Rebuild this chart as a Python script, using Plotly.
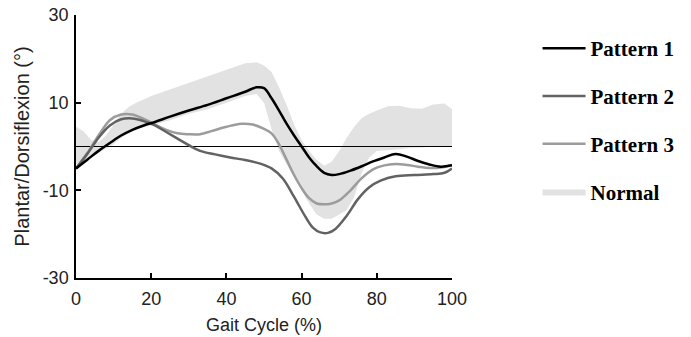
import plotly.graph_objects as go

# ---------------- data ----------------
p1_x = [0, 3, 6, 9, 12, 15, 18, 21, 25, 30, 35, 40, 45, 48, 50, 52, 54, 56, 58, 60,
        62, 64, 66, 68, 70, 73, 76, 79, 82, 85, 88, 91, 94, 97, 100]
p1_y = [-5, -3, -1, 0.8, 2.5, 3.8, 4.8, 5.6, 6.8, 8.2, 9.5, 11, 12.5, 13.5, 13.3, 11, 8.2, 5.2, 2.5, 0,
        -2.5, -4.5, -6, -6.5, -6.3, -5.5, -4.5, -3.4, -2.5, -1.7, -2.3, -3.3, -4.1, -4.6, -4.3]

p2_x = [0, 3, 6, 9, 12, 15, 18, 21, 24, 27, 30, 33, 37, 41, 45, 49, 52, 55, 58, 61,
        63, 65, 67, 69, 72, 75, 78, 81, 85, 90, 95, 98, 100]
p2_y = [-5, -1.7, 2, 4.8, 6.2, 6.4, 5.8, 4.8, 3.3, 1.8, 0.3, -1, -1.8, -2.5, -3.1, -3.9, -5, -7.3, -11.5, -16,
        -18.5, -19.6, -19.7, -18.8, -15.8, -12, -9.3, -7.8, -6.8, -6.5, -6.3, -6, -5]

p3_x = [0, 3, 6, 9, 12, 15, 18, 21, 24, 27, 30, 33, 36, 40, 44, 47, 50, 52, 54, 56,
        58, 60, 62, 64, 66, 68, 70, 73, 76, 79, 82, 85, 88, 91, 94, 97, 100]
p3_y = [-5, -1.5, 2.5, 6, 7.3, 7.3, 6.3, 5, 3.8, 3, 2.8, 2.8, 3.5, 4.5, 5.2, 5, 4, 3, 0.5, -3,
        -6.5, -9.5, -11.8, -13, -13.2, -13, -12.3, -10, -7.2, -5.2, -4.3, -4, -4.2, -4.6, -4.9, -4.8, -4.2]

norm_x = [0, 2, 4, 6, 8, 10, 12, 14, 16, 20, 25, 30, 35, 40, 45, 48, 50, 52, 54, 56,
          58, 60, 62, 64, 66, 68, 70, 72, 74, 76, 78, 80, 83, 86, 89, 92, 95, 98, 100]
norm_upper = [4.5, 3.5, 1.5, 1, 2.5, 5, 7.5, 9, 10, 11.5, 13, 14.5, 16, 17.5, 19, 19.2, 18.5, 17, 13.5, 9.5,
              5, 1.5, -1, -3, -4.4, -3.5, -1, 2, 4.5, 6.5, 7.5, 8.2, 9.2, 9.3, 8.7, 8.6, 9.6, 9.8, 8.5]
norm_lower = [-4, -3.5, -2.5, -1.5, -0.5, 0.5, 2, 3, 4, 4.8, 6, 7.5, 8.5, 10, 11.5, 12, 10, 4, -1, -4,
              -7, -10, -13, -15.5, -16.5, -16.5, -15.5, -14.5, -11.5, -6, -2.5, -1, -0.8, -0.6, -0.3, -0.2, 0, 0, 0]

ref_x = [0, 100]
ref_y = [0, 0]

x_ticks = [0, 20, 40, 60, 80, 100]
y_ticks = [-30, -10, 10, 30]

# ---------------- figure ----------------
fig = go.Figure()

fig.add_trace(go.Scatter(
    x=norm_x + norm_x[::-1], y=norm_upper + norm_lower[::-1],
    fill="toself", fillcolor="#e2e2e2", line=dict(width=0, color="#e2e2e2"),
    mode="lines", name="Normal", legendgroup="n", legendrank=4, hoverinfo="skip"))

fig.add_trace(go.Scatter(
    x=ref_x, y=ref_y, mode="lines", line=dict(color="#000000", width=1),
    showlegend=False, hoverinfo="skip"))

fig.add_trace(go.Scatter(x=p3_x, y=p3_y, mode="lines", name="Pattern 3",
                         line=dict(color="#9c9c9c", width=2.5, shape="spline"),
                         legendgroup="c", legendrank=3))
fig.add_trace(go.Scatter(x=p2_x, y=p2_y, mode="lines", name="Pattern 2",
                         line=dict(color="#626262", width=2.5, shape="spline"),
                         legendgroup="b", legendrank=2))
fig.add_trace(go.Scatter(x=p1_x, y=p1_y, mode="lines", name="Pattern 1",
                         line=dict(color="#000000", width=2.5, shape="spline"),
                         legendgroup="a", legendrank=1))

axis_font = dict(family="Liberation Sans, Arial, sans-serif", size=18, color="#222222")
ytitle_font = dict(family="Liberation Sans, Arial, sans-serif", size=20, color="#222222")

fig.update_layout(
    width=691, height=337,
    margin=dict(l=76, r=237, t=15, b=59),
    paper_bgcolor="white", plot_bgcolor="white",
    font=axis_font,
    showlegend=True,
    legend=dict(
        x=(540 - 76) / 378, xanchor="left",
        y=1 - (28 - 15) / 263, yanchor="top",
        font=dict(family="Liberation Serif, Times New Roman, serif", size=21, color="#000000",
                  weight="bold"),
        tracegroupgap=17.5, itemwidth=43, bgcolor="rgba(0,0,0,0)",
        traceorder="grouped",
    ),
    xaxis=dict(
        range=[0, 100], tickvals=x_ticks, ticktext=[str(v) for v in x_ticks],
        showline=True, linecolor="#000000", linewidth=1.5,
        ticks="inside", ticklen=5, tickcolor="#000000", tickwidth=1.5,
        showgrid=False, zeroline=False, tickfont=axis_font, automargin=False,
        ticklabelstandoff=4, ticklabeloverflow="allow",
        title=dict(text="Gait Cycle (%)", font=axis_font, standoff=10),
    ),
    yaxis=dict(
        range=[-30, 30], tickvals=y_ticks, ticktext=[str(v) for v in y_ticks],
        showline=True, linecolor="#000000", linewidth=1.5,
        ticks="inside", ticklen=5, tickcolor="#000000", tickwidth=1.5,
        showgrid=False, zeroline=False, tickfont=axis_font, automargin=False,
        ticklabelstandoff=2, ticklabeloverflow="allow",
        title=dict(text="Plantar/Dorsiflexion (°)", font=ytitle_font, standoff=8),
    ),
)

fig.write_html("out.html", config={"displayModeBar": False},
               post_script="document.body.style.margin='0';")
